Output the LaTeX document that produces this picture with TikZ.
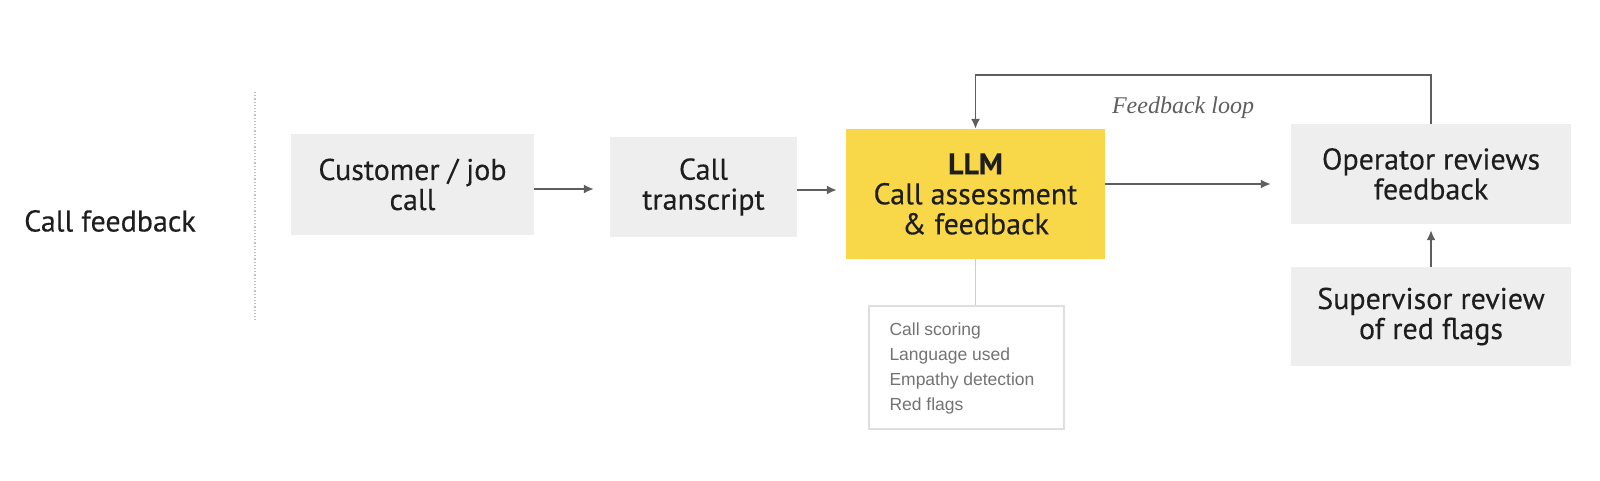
\documentclass[tikz,border=0pt]{standalone}
\usepackage{fontspec}
\setmainfont{PT Sans}
\newfontfamily\listfont{Liberation Sans}
\newfontfamily\loopfont{Liberation Serif}
\usetikzlibrary{arrows.meta}
\definecolor{boxgray}{HTML}{EEEEEE}
\definecolor{llmyellow}{HTML}{F8D748}
\definecolor{linegray}{HTML}{5E5E5E}
\definecolor{textdark}{HTML}{1E1E1E}
\newcommand\stagefont{\fontsize{30}{30}\selectfont\addfontfeature{FakeBold=0.25}}
\begin{document}
\begin{tikzpicture}[x=1pt,y=-1pt,
    stage/.style={fill=boxgray,align=center,text=textdark,font=\stagefont,inner sep=0pt},
    flow/.style={draw=linegray,line width=1.8pt,-{Latex[length=10pt,width=9pt]}}]
    \useasboundingbox (0,0) rectangle (1600,481);
    % left label and divider
    \node[text=textdark,font=\stagefont] (title) at (110,221) {Call feedback};
    \coordinate (divtop) at (255,92);
    \coordinate (divbot) at (255,321);
    \draw[gray!50,dotted,line width=1.2pt] (divtop)--(divbot);
    % boxes
    \node[stage,minimum width=243pt,minimum height=101pt] (job) at (412.5,184.5) {Customer / job\\call};
    \node[stage,minimum width=187pt,minimum height=100pt] (transcript) at (703.5,187) {Call\\transcript};
    \node[stage,fill=llmyellow,minimum width=259pt,minimum height=130pt] (llm) at (975.5,194) {\textbf{LLM}\\Call assessment\\\& feedback};
    \node[stage,minimum width=280pt,minimum height=100pt] (operator) at (1431,174) {Operator reviews\\feedback};
    \node[stage,minimum width=280pt,minimum height=99pt] (supervisor) at (1431,316.5) {Supervisor review\\of red flags};
    \node[draw=gray!25,line width=1.4pt,fill=white,minimum width=195pt,minimum height=123pt] (outputs) at (966.5,367.5) {};
    \node[anchor=west,align=left,inner sep=0pt,text=gray!90!black,font=\listfont\fontsize{17.5}{25}\selectfont] (outputlist) at ([xshift=21pt,yshift=-1pt]outputs.west) {Call scoring\\Language used\\Empathy detection\\Red flags};
    % connectors
    \draw[flow,shorten >=16pt] (job.east |- 0,189) -- (transcript.west |- 0,189);
    \draw[flow,shorten >=9pt] (transcript.east |- 0,190) -- (llm.west |- 0,190);
    \draw[flow,shorten >=20pt] (llm.east |- 0,184) -- (operator.west |- 0,184);
    \draw[flow,shorten >=6pt] (supervisor.north) -- (operator.south);
    \draw[flow] (operator.north) -- ++(0,-48.5) -| (llm.north);
    \draw[gray!40,line width=1.4pt] (llm.south) -- (llm.south |- outputs.north);
    \node[text=linegray,font=\loopfont\itshape\fontsize{24}{26}\selectfont] (looplabel) at (1183,108) {Feedback loop};
\end{tikzpicture}
\end{document}
